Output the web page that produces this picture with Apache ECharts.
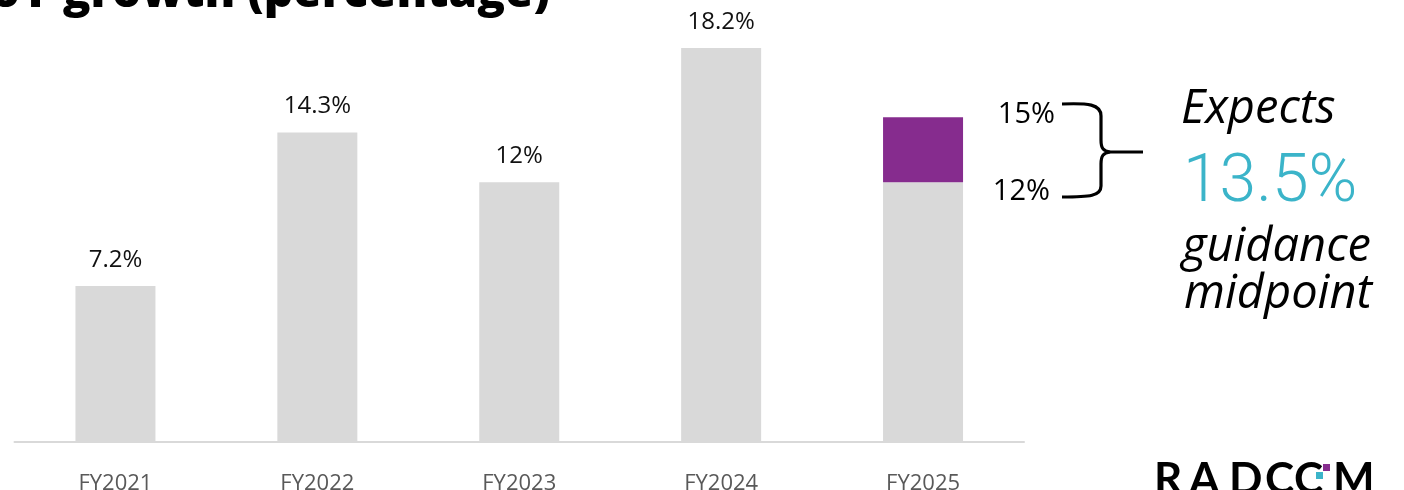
<!DOCTYPE html>
<html>
<head>
<meta charset="utf-8">
<script src="https://cdn.jsdelivr.net/npm/echarts@6/dist/echarts.min.js"></script>
<style>
  html, body { margin: 0; padding: 0; background: #fff; }
  #chart { width: 1404px; height: 490px; }
</style>
</head>
<body>
<div id="chart"></div>
<script>
const categories = ['FY2021', 'FY2022', 'FY2023', 'FY2024', 'FY2025']
const growth = [7.2, 14.3, 12, 18.2, null]
const guidance = [12, 15]
const guidanceMid = 13.5

const gray = '#D9D9D9'
const purple = '#862C8E'
const teal = '#3BB4C9'

// FY2025 gray part is the low end of the guidance, purple sits on top up to the high end
const baseData = growth.map(v => {
  if (v !== null) return v
  return { value: guidance[0], label: { show: false } }
})
const rangeData = growth.map(v => (v === null ? guidance[1] - guidance[0] : '-'))

// curly brace next to the guidance bar, drawn from pieces
const braceStyle = { stroke: '#000', lineWidth: 3.2, fill: null }
const curve = (x1, y1, cpx1, cpy1, cpx2, cpy2, x2, y2) => ({
  type: 'bezierCurve',
  shape: { x1, y1, cpx1, cpy1, cpx2, cpy2, x2, y2 },
  style: braceStyle
})
const seg = (x1, y1, x2, y2) => ({ type: 'line', shape: { x1, y1, x2, y2 }, style: braceStyle })

const logoText = (text, x) => ({
  type: 'text',
  style: { text, x, y: 480, verticalAlign: 'middle', fontFamily: 'Lato', fontWeight: 700, fontSize: 44, fill: '#000' }
})

const italicText = (text, x, y) => ({
  type: 'text',
  style: {
    text,
    x,
    y,
    verticalAlign: 'middle',
    fontFamily: 'Open Sans',
    fontStyle: 'italic',
    fontSize: 47,
    fill: '#000'
  }
})

const chart = echarts.init(document.getElementById('chart'))
const option = {
  animation: false,
  grid: {
    left: 14.5,
    right: 380,
    top: 9,
    bottom: 48,
    containLabel: false,
    outerBoundsMode: 'none'
  },
  xAxis: {
    type: 'category',
    data: categories,
    axisLine: { lineStyle: { color: gray, width: 2 } },
    axisTick: { show: false },
    axisLabel: {
      margin: 31,
      fontFamily: 'Open Sans',
      fontSize: 22,
      color: '#595959'
    }
  },
  yAxis: {
    type: 'value',
    min: 0,
    max: 20,
    show: false,
    splitLine: { show: false }
  },
  series: [
    {
      type: 'bar',
      stack: 'g',
      barWidth: 80,
      data: baseData,
      itemStyle: { color: gray },
      label: {
        show: true,
        position: 'top',
        distance: 14,
        formatter: '{c}%',
        fontFamily: 'Open Sans',
        fontSize: 24,
        color: '#111'
      }
    },
    {
      type: 'bar',
      stack: 'g',
      barWidth: 80,
      data: rangeData,
      itemStyle: { color: purple }
    }
  ],
  graphic: [
    {
      type: 'text',
      style: {
        text: 'YoY growth (percentage)',
        x: 550,
        y: -6,
        align: 'right',
        verticalAlign: 'middle',
        fontFamily: 'Open Sans',
        fontWeight: 800,
        fontSize: 46,
        fill: '#000'
      }
    },
    {
      type: 'text',
      style: {
        text: guidance[1] + '%',
        x: 1055,
        y: 115,
        align: 'right',
        verticalAlign: 'middle',
        fontFamily: 'Open Sans',
        fontSize: 29,
        fill: '#000'
      }
    },
    {
      type: 'text',
      style: {
        text: guidance[0] + '%',
        x: 1050,
        y: 192,
        align: 'right',
        verticalAlign: 'middle',
        fontFamily: 'Open Sans',
        fontSize: 29,
        fill: '#000'
      }
    },
    {
      type: 'group',
      children: [
        curve(1062, 104, 1088, 103, 1101, 104, 1101, 116),
        seg(1101, 116, 1101, 140),
        curve(1101, 140, 1101, 148, 1103, 151, 1110, 152),
        seg(1110, 152, 1143, 152),
        curve(1110, 152, 1103, 153, 1101, 156, 1101, 164),
        seg(1101, 164, 1101, 186),
        curve(1101, 186, 1101, 196, 1090, 197, 1062, 197)
      ]
    },
    italicText('Expects', 1181, 110),
    {
      type: 'text',
      style: {
        text: guidanceMid + '%',
        x: 1183,
        y: 184,
        verticalAlign: 'middle',
        fontFamily: 'Roboto',
        fontWeight: 300,
        fontSize: 66,
        fill: teal
      }
    },
    italicText('guidance', 1182, 248),
    italicText('midpoint', 1184, 295),
    // logo, bottom right
    {
      type: 'group',
      children: [
        logoText('R', 1154),
        logoText('A', 1189),
        logoText('D', 1229),
        logoText('C', 1265),
        logoText('C', 1294),
        { type: 'rect', shape: { x: 1323, y: 464, width: 7, height: 7 }, style: { fill: purple } },
        { type: 'rect', shape: { x: 1316, y: 472, width: 7, height: 7 }, style: { fill: teal } },
        logoText('M', 1333)
      ]
    }
  ]
}
chart.setOption(option)
</script>
</body>
</html>
